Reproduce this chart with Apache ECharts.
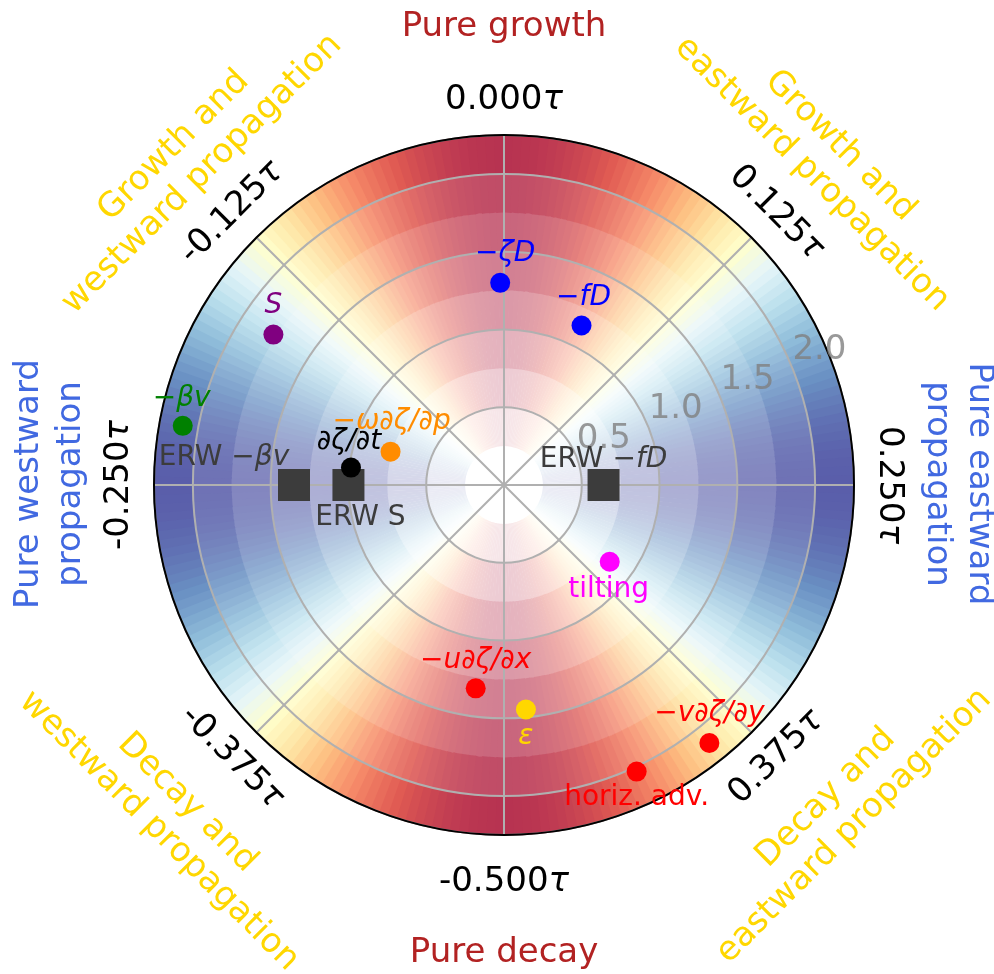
<!DOCTYPE html>
<html>
<head>
<meta charset="utf-8">
<script src="https://cdn.jsdelivr.net/npm/echarts@6/dist/echarts.min.js"></script>
<style>
  html, body { margin: 0; padding: 0; background: #ffffff; }
  #chart { width: 994px; height: 974px; }
</style>
</head>
<body>
<div id="chart"></div>
<script>
// Vorticity budget terms in phase space:
// angle = phase as a fraction of a full turn (τ), radius = amplitude.
const termNames = ['−ζD', '−fD', 'S', '−βv', '∂ζ/∂t', '−ω∂ζ/∂p', 'tilting', '−u∂ζ/∂x', 'ε', 'horiz. adv.', '−v∂ζ/∂y'];
const termPhase = [-0.003, 0.072, -0.158, -0.221, -0.232, -0.2045, 0.350, -0.478, 0.4845, 0.431, 0.393];
const termAmplitude = [1.30, 1.14, 1.77, 2.10, 0.99, 0.76, 0.84, 1.32, 1.45, 2.03, 2.12];

// Equatorial Rossby wave reference terms
const erwNames = ['ERW −βv', 'ERW S', 'ERW −fD'];
const erwPhase = [-0.25, -0.25, 0.25];
const erwAmplitude = [1.35, 1.00, 0.64];

// Axis ticks
const phaseTicks = [-0.5, -0.375, -0.25, -0.125, 0, 0.125, 0.25, 0.375];
const phaseTickLabels = ['-0.500', '-0.375', '-0.250', '-0.125', '0.000', '0.125', '0.250', '0.375'];
const amplitudeTicks = [0.5, 1.0, 1.5, 2.0];
const amplitudeTickLabels = ['0.5', '1.0', '1.5', '2.0'];
const amplitudeMax = 2.25;

// ---- styling ----
const FONT = '"DejaVu Sans", "Noto Sans", sans-serif';
const termColors = ['#0000ff', '#0000ff', '#800080', '#008000', '#000000', '#ff8c00', '#ff00ff', '#ff0000', '#ffd700', '#ff0000', '#ff0000'];
const termLabelOffsets = [[5, -29], [2, -28], [0, -29], [-1, -27], [-2, -26], [1, -30], [-1, 28], [0, -28], [0, 27], [0, 26], [0, -29]];
const termLabelItalic = [true, true, true, true, true, true, false, true, true, false, true];
const erwRich = ['{n|ERW }{i|−βv}', '{n|ERW S}', '{n|ERW }{i|−fD}'];
const erwLabelOffsets = [[-70, -27], [12, 33], [0, -25]];
const ERW_COLOR = '#3c3c3c';

// Regime shading: RdYlBu (reversed) by cos(2·phase angle), fading toward the origin
const rdylbuR = ['#313695', '#4575b4', '#74add1', '#abd9e9', '#e0f3f8', '#ffffbf', '#fee090', '#fdae61', '#f46d43', '#d73027', '#a50026'];
function hexRgb(h) { return [1, 3, 5].map(i => parseInt(h.substr(i, 2), 16)); }
const rdylbuRgb = rdylbuR.map(hexRgb);
function cmap(t) {
  t = Math.max(0, Math.min(1, t));
  const x = t * (rdylbuRgb.length - 1);
  const i = Math.min(Math.floor(x), rdylbuRgb.length - 2);
  const f = x - i;
  return rdylbuRgb[i].map((c, k) => c + (rdylbuRgb[i + 1][k] - c) * f);
}
const SHADE_BINS = 240;
const SHADE_BAND = 0.25;
const shadeCells = [];
const shadeColors = [];
for (let b = 1; b * SHADE_BAND < amplitudeMax - 1e-9; b++) {
  const alpha = b / 10;
  for (let k = 0; k < SHADE_BINS; k++) {
    const a0 = -0.5 + k / SHADE_BINS;
    const a1 = a0 + 1 / SHADE_BINS;
    const mid = (a0 + a1) / 2;
    const rgb = cmap((Math.cos(4 * Math.PI * mid) + 1) / 2);
    const mixed = rgb.map(c => Math.round(alpha * c + (1 - alpha) * 255));
    shadeCells.push([(b + 0.5) * SHADE_BAND, mid, b * SHADE_BAND, (b + 1) * SHADE_BAND, a0, a1]);
    shadeColors.push('rgb(' + mixed.join(',') + ')');
  }
}

const chart = echarts.init(document.getElementById('chart'), null, { renderer: 'canvas' });

function wrapRot(deg) {
  while (deg > 90) deg -= 180;
  while (deg < -90) deg += 180;
  return deg;
}

const TICK_RICH = {
  n: { color: '#000000', fontSize: 34, fontFamily: FONT },
  t: { color: '#000000', fontSize: 34, fontFamily: FONT, fontStyle: 'italic' }
};

const option = {
  backgroundColor: '#ffffff',
  animation: false,
  polar: { center: [504, 485], radius: 350 },
  angleAxis: {
    type: 'value', min: -0.5, max: 0.5, interval: 0.125,
    startAngle: -90, clockwise: true,
    axisLine: { show: true, lineStyle: { color: '#000000', width: 2 } },
    axisTick: { show: false },
    axisLabel: { show: false },
    splitLine: { show: true, lineStyle: { color: '#b0b0b0', width: 2 } },
    z: 3
  },
  radiusAxis: {
    type: 'value', min: 0, max: amplitudeMax, interval: 0.5,
    axisLine: { show: false }, axisTick: { show: false }, axisLabel: { show: false },
    splitLine: { show: true, lineStyle: { color: '#b0b0b0', width: 2 } },
    z: 2
  },
  graphic: [
    { type: 'text', x: 504, y: 27, style: { text: 'Pure growth', fill: '#b22222', font: '34px ' + FONT, align: 'center', verticalAlign: 'middle' } },
    { type: 'text', x: 504, y: 953, style: { text: 'Pure decay', fill: '#b22222', font: '34px ' + FONT, align: 'center', verticalAlign: 'middle' } },
    { type: 'text', x: 958, y: 484, rotation: -Math.PI / 2, style: { text: 'Pure eastward\npropagation', fill: '#4169e1', font: '34px ' + FONT, align: 'center', verticalAlign: 'middle', lineHeight: 42 } },
    { type: 'text', x: 50, y: 484, rotation: Math.PI / 2, style: { text: 'Pure westward\npropagation', fill: '#4169e1', font: '34px ' + FONT, align: 'center', verticalAlign: 'middle', lineHeight: 42 } },
    { type: 'text', x: 188, y: 160, rotation: Math.PI / 4, style: { text: 'Growth and\nwestward propagation', fill: '#ffd700', font: '34px ' + FONT, align: 'center', verticalAlign: 'middle', lineHeight: 40 } },
    { type: 'text', x: 826, y: 160, rotation: -Math.PI / 4, style: { text: 'Growth and\neastward propagation', fill: '#ffd700', font: '34px ' + FONT, align: 'center', verticalAlign: 'middle', lineHeight: 40 } },
    { type: 'text', x: 173, y: 817, rotation: -Math.PI / 4, style: { text: 'Decay and\nwestward propagation', fill: '#ffd700', font: '34px ' + FONT, align: 'center', verticalAlign: 'middle', lineHeight: 40 } },
    { type: 'text', x: 840, y: 812, rotation: Math.PI / 4, style: { text: 'Decay and\neastward propagation', fill: '#ffd700', font: '34px ' + FONT, align: 'center', verticalAlign: 'middle', lineHeight: 40 } }
  ],
  series: [
    {
      // regime shading field
      type: 'custom', coordinateSystem: 'polar', silent: true, z: -1,
      data: shadeCells,
      renderItem: function (params, api) {
        const cs = params.coordSys;
        const cx = cs.cx, cy = cs.cy;
        const p0 = api.coord([api.value(2), 0]);
        const p1 = api.coord([api.value(3), 0]);
        const R0 = Math.hypot(p0[0] - cx, p0[1] - cy);
        const R1 = Math.hypot(p1[0] - cx, p1[1] - cy);
        const s = -Math.PI / 2 + 2 * Math.PI * api.value(4);
        const e = -Math.PI / 2 + 2 * Math.PI * api.value(5);
        return {
          type: 'sector',
          shape: { cx: cx, cy: cy, r0: R0, r: R1 + 0.6, startAngle: s - 0.002, endAngle: e + 0.002, clockwise: true },
          style: { fill: shadeColors[params.dataIndex] }
        };
      }
    },
    {
      // amplitude tick labels
      type: 'scatter', coordinateSystem: 'polar', silent: true, clip: false,
      symbolSize: 0,
      data: amplitudeTicks.map(r => [r, 0.1875]),
      label: {
        show: true, position: 'inside', offset: [28, -16],
        formatter: p => amplitudeTickLabels[p.dataIndex],
        color: '#808080', fontSize: 34, fontFamily: FONT
      },
      z: 3
    },
    {
      // phase tick labels around the rim
      type: 'scatter', coordinateSystem: 'polar', silent: true, clip: false,
      symbolSize: 0,
      itemStyle: { color: '#000000' },
      data: phaseTicks.map((a, i) => ({
        value: [2.475, a],
        itemStyle: { color: '#000000' },
        label: {
          show: true, position: 'inside',
          rotate: wrapRot(-360 * a),
          offset: a === -0.5 ? [0, 12] : [0, 0],
          color: '#000000', opacity: 1,
          formatter: '{n|' + phaseTickLabels[i] + '}{t|τ}',
          rich: TICK_RICH
        }
      })),
      label: { show: true, position: 'inside', color: '#000000', rich: TICK_RICH },
      z: 3
    },
    {
      // ERW reference terms
      type: 'scatter', coordinateSystem: 'polar', silent: true, clip: false,
      symbol: 'rect', symbolSize: 32,
      itemStyle: { color: ERW_COLOR, opacity: 1 },
      data: erwPhase.map((a, i) => ({
        name: erwNames[i],
        value: [erwAmplitude[i], a],
        label: { offset: erwLabelOffsets[i] }
      })),
      label: {
        show: true, position: 'inside', color: ERW_COLOR, textBorderWidth: 0,
        formatter: p => erwRich[p.dataIndex],
        rich: {
          n: { color: ERW_COLOR, fontSize: 28, fontFamily: FONT },
          i: { color: ERW_COLOR, fontSize: 28, fontFamily: FONT, fontStyle: 'italic' }
        }
      },
      z: 4
    },
    {
      // budget terms
      type: 'scatter', coordinateSystem: 'polar', silent: true, clip: false,
      symbol: 'circle', symbolSize: 20,
      data: termPhase.map((a, i) => ({
        name: termNames[i],
        value: [termAmplitude[i], a],
        itemStyle: { color: termColors[i], opacity: 1 },
        label: {
          offset: termLabelOffsets[i],
          color: termColors[i],
          fontStyle: termLabelItalic[i] ? 'italic' : 'normal'
        }
      })),
      label: {
        show: true, position: 'inside',
        formatter: p => termNames[p.dataIndex],
        fontSize: 28, fontFamily: FONT
      },
      z: 5
    }
  ]
};

chart.setOption(option);
</script>
</body>
</html>
